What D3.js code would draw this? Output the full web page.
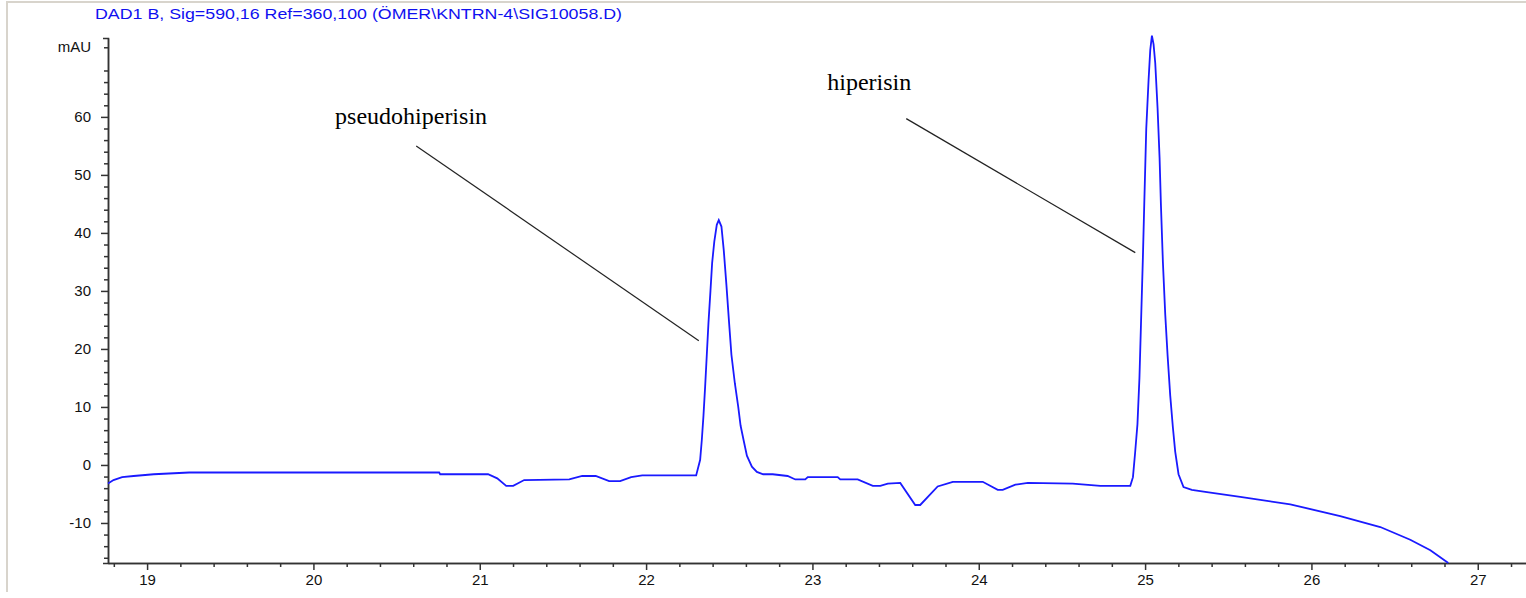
<!DOCTYPE html>
<html>
<head>
<meta charset="utf-8">
<script src="https://cdn.jsdelivr.net/npm/d3@7"></script>
<style>
  body { margin: 0; background: #fff; }
  svg { display: block; font-family: "Liberation Sans", Arial, sans-serif; }
  .axis path, .axis line { stroke: #333; stroke-width: 1.5; }
  .axis text { fill: #111; font-size: 15px; }
</style>
</head>
<body>
<script>
// chromatogram trace: retention time (min) and absorbance (mAU)
const times = [
  18.765, 18.798, 18.850, 18.919, 19.040, 19.253, 20.756, 20.762, 21.050, 21.105,
  21.159, 21.201, 21.267, 21.538, 21.616, 21.697, 21.778, 21.844, 21.910, 21.977,
  22.301, 22.325, 22.335, 22.345, 22.355, 22.365, 22.375, 22.387, 22.397, 22.410,
  22.425, 22.437, 22.453, 22.467, 22.483, 22.499, 22.513, 22.534, 22.554, 22.568,
  22.586, 22.606, 22.636, 22.666, 22.704, 22.761, 22.851, 22.897, 22.957, 22.972,
  23.152, 23.167, 23.272, 23.363, 23.408, 23.453, 23.528, 23.618, 23.648, 23.753,
  23.844, 24.024, 24.114, 24.144, 24.220, 24.295, 24.565, 24.731, 24.911, 24.927,
  24.940, 24.954, 24.966, 24.975, 24.987, 24.995, 25.007, 25.021, 25.031, 25.041,
  25.051, 25.061, 25.075, 25.087, 25.095, 25.107, 25.121, 25.135, 25.151, 25.167,
  25.181, 25.201, 25.231, 25.281, 25.372, 25.572, 25.873, 26.173, 26.414, 26.594,
  26.715, 26.823
]
const mau = [
  -3.2, -2.6, -2.1, -1.9, -1.6, -1.3, -1.3, -1.6, -1.6, -2.3,
  -3.6, -3.6, -2.6, -2.5, -1.9, -1.9, -2.8, -2.8, -2.1, -1.8,
  -1.8, 0.9, 4.3, 8.5, 13.5, 19.0, 24.5, 30.0, 34.8, 38.5,
  41.4, 42.2, 41.1, 37.0, 31.0, 24.5, 19.0, 14.0, 10.0, 6.8,
  4.3, 1.6, -0.3, -1.2, -1.6, -1.6, -1.9, -2.5, -2.5, -2.1,
  -2.1, -2.5, -2.5, -3.6, -3.6, -3.2, -3.1, -6.9, -6.9, -3.7,
  -2.9, -2.9, -4.3, -4.3, -3.4, -3.1, -3.2, -3.6, -3.6, -2.1,
  2.1, 7.0, 15.0, 24.0, 36.0, 45.0, 58.0, 66.4, 71.5, 74.0,
  72.5, 69.3, 61.5, 53.0, 45.0, 35.0, 26.0, 19.0, 12.0, 6.5,
  2.3, -1.6, -3.8, -4.3, -4.7, -5.5, -6.8, -8.8, -10.7, -12.9,
  -14.7, -16.9
]

const xTicks = [19, 20, 21, 22, 23, 24, 25, 26, 27]
const yTicks = [-10, 0, 10, 20, 30, 40, 50, 60]
const title = 'DAD1 B, Sig=590,16 Ref=360,100 (ÖMER\\KNTRN-4\\SIG10058.D)'
const peakNames = ['pseudohiperisin', 'hiperisin']

const width = 1526
const height = 598
const marginLeft = 108, marginTop = 38, axisY = 563

const x = d3.scaleLinear().domain([18.765, 27.29]).range([marginLeft, width])
const y = d3.scaleLinear().domain([-16.9, 73.6]).range([axisY, marginTop])

const svg = d3.select('body').append('svg')
  .attr('width', width)
  .attr('height', height)

// window frame
svg.append('line')
  .attr('x1', 6).attr('x2', width).attr('y1', 2).attr('y2', 2)
  .attr('stroke', '#d8d4cc').attr('stroke-width', 2)
svg.append('line')
  .attr('x1', 7).attr('x2', 7).attr('y1', 2).attr('y2', 592)
  .attr('stroke', '#d8d4cc').attr('stroke-width', 2)

svg.append('text')
  .attr('x', 95).attr('y', 19)
  .attr('fill', '#1010f0')
  .attr('textLength', 527)
  .attr('lengthAdjust', 'spacingAndGlyphs')
  .style('font-size', '15px')
  .text(title)

// minor ticks every 0.2 min / 2 mAU
const minorX = d3.range(18.8, 27.3, 0.2).filter(t => Math.abs(t - Math.round(t)) > 0.01)
const minorY = d3.range(-16, 73, 2).filter(v => v % 10 !== 0)

svg.append('g').attr('class', 'axis')
  .attr('transform', `translate(0,${axisY})`)
  .call(d3.axisBottom(x).tickValues(minorX).tickSize(4).tickSizeOuter(0).tickFormat(''))
svg.append('g').attr('class', 'axis')
  .attr('transform', `translate(0,${axisY})`)
  .call(d3.axisBottom(x).tickValues(xTicks).tickSize(7).tickPadding(4).tickSizeOuter(0).tickFormat(String))

svg.append('g').attr('class', 'axis')
  .attr('transform', `translate(${marginLeft},0)`)
  .call(d3.axisLeft(y).tickValues(minorY).tickSize(4).tickSizeOuter(5).tickFormat(''))
svg.append('g').attr('class', 'axis')
  .attr('transform', `translate(${marginLeft},0)`)
  .call(d3.axisLeft(y).tickValues(yTicks).tickSize(7).tickPadding(10).tickSizeOuter(0).tickFormat(String))

svg.append('text')
  .attr('x', 91).attr('y', 52)
  .attr('text-anchor', 'end')
  .attr('fill', '#111')
  .style('font-size', '15px')
  .text('mAU')

const line = d3.line()
  .x((d, i) => x(times[i]))
  .y(d => y(d))

svg.append('path')
  .datum(mau)
  .attr('fill', 'none')
  .attr('stroke', '#1a1aff')
  .attr('stroke-width', 1.8)
  .attr('d', line)

// peak labels with leader lines
const labels = [
  { name: peakNames[0], tx: 20.587, tv: 58.8, from: [20.618, 55.0], to: [22.317, 21.4] },
  { name: peakNames[1], tx: 23.342, tv: 64.7, from: [23.564, 59.7], to: [24.941, 36.6] }
]
const g = svg.append('g')
g.selectAll('line')
  .data(labels)
  .join('line')
    .attr('x1', d => x(d.from[0]))
    .attr('y1', d => y(d.from[1]))
    .attr('x2', d => x(d.to[0]))
    .attr('y2', d => y(d.to[1]))
    .attr('stroke', '#222')
    .attr('stroke-width', 1.2)
g.selectAll('text')
  .data(labels)
  .join('text')
    .attr('x', d => x(d.tx))
    .attr('y', d => y(d.tv))
    .attr('text-anchor', 'middle')
    .style('font-family', '"Liberation Serif", "Times New Roman", serif')
    .style('font-size', '24px')
    .attr('fill', '#000')
    .text(d => d.name)
</script>
</body>
</html>
